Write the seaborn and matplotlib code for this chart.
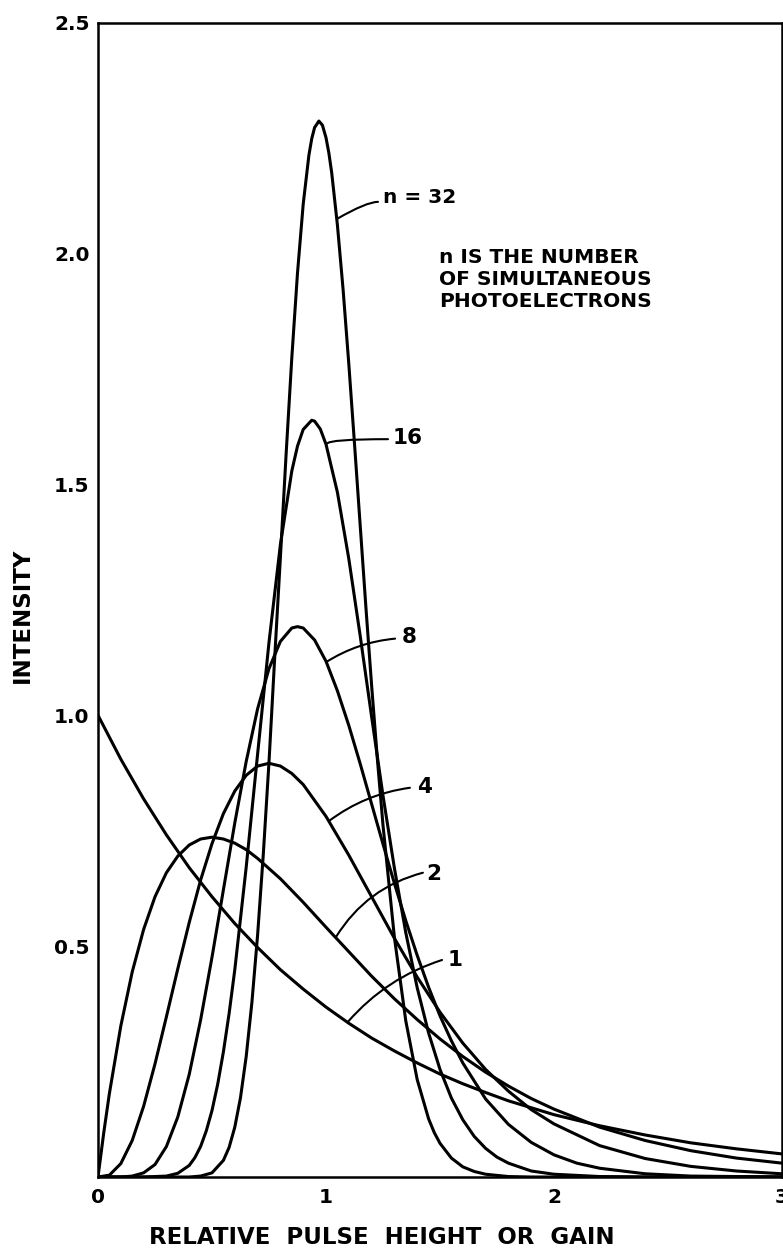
import matplotlib
matplotlib.use("Agg")
import matplotlib.pyplot as plt
import pandas as pd
import seaborn as sns

# ---- values (pulse-height spectra for n photoelectrons) ----
x_n1 = [0.0, 0.1, 0.2, 0.3, 0.4, 0.5, 0.6, 0.7, 0.8, 0.9, 1.0, 1.1, 1.2, 1.3, 1.4,
        1.5, 1.6, 1.7, 1.8, 1.9, 2.0, 2.2, 2.4, 2.6, 2.8, 3.0]
y_n1 = [1.000, 0.905, 0.819, 0.741, 0.670, 0.607, 0.549, 0.497, 0.449, 0.407, 0.368,
        0.333, 0.301, 0.273, 0.247, 0.223, 0.202, 0.183, 0.165, 0.150, 0.135, 0.111,
        0.091, 0.074, 0.061, 0.050]

x_n2 = [0.0, 0.025, 0.05, 0.1, 0.15, 0.2, 0.25, 0.3, 0.35, 0.4, 0.45, 0.5, 0.55, 0.6,
        0.65, 0.7, 0.8, 0.9, 1.0, 1.1, 1.2, 1.3, 1.4, 1.5, 1.6, 1.7, 1.8, 1.9, 2.0,
        2.2, 2.4, 2.6, 2.8, 3.0]
y_n2 = [0.000, 0.095, 0.181, 0.327, 0.444, 0.536, 0.607, 0.659, 0.695, 0.719, 0.732,
        0.736, 0.732, 0.723, 0.709, 0.690, 0.646, 0.595, 0.541, 0.488, 0.435, 0.386,
        0.341, 0.299, 0.261, 0.227, 0.197, 0.170, 0.147, 0.108, 0.079, 0.057, 0.041,
        0.030]

x_n4 = [0.0, 0.05, 0.1, 0.15, 0.2, 0.25, 0.3, 0.35, 0.4, 0.45, 0.5, 0.55, 0.6, 0.65,
        0.7, 0.75, 0.8, 0.85, 0.9, 1.0, 1.1, 1.2, 1.3, 1.4, 1.5, 1.6, 1.7, 1.8, 1.9,
        2.0, 2.2, 2.4, 2.6, 2.8, 3.0]
y_n4 = [0.000, 0.004, 0.029, 0.079, 0.153, 0.245, 0.347, 0.451, 0.551, 0.643, 0.722,
        0.787, 0.836, 0.870, 0.890, 0.896, 0.890, 0.874, 0.850, 0.781, 0.697, 0.607,
        0.517, 0.433, 0.357, 0.290, 0.233, 0.186, 0.146, 0.115, 0.068, 0.040, 0.023,
        0.013, 0.007]

x_n8 = [0.0, 0.1, 0.15, 0.2, 0.25, 0.3, 0.35, 0.4, 0.45, 0.5, 0.55, 0.6, 0.65, 0.7,
        0.75, 0.8, 0.85, 0.875, 0.9, 0.95, 1.0, 1.05, 1.1, 1.15, 1.2, 1.25, 1.3, 1.35,
        1.4, 1.45, 1.5, 1.55, 1.6, 1.7, 1.8, 1.9, 2.0, 2.1, 2.2, 2.4, 2.6, 2.8, 3.0]
y_n8 = [0.000, 0.000, 0.002, 0.009, 0.027, 0.066, 0.130, 0.222, 0.340, 0.476, 0.622,
        0.767, 0.900, 1.014, 1.101, 1.160, 1.189, 1.192, 1.189, 1.163, 1.117, 1.053,
        0.978, 0.895, 0.808, 0.721, 0.636, 0.555, 0.480, 0.411, 0.349, 0.295, 0.247,
        0.169, 0.114, 0.075, 0.048, 0.030, 0.019, 0.007, 0.002, 0.001, 0.000]

x_n16 = [0.0, 0.2, 0.3, 0.35, 0.4, 0.425, 0.45, 0.475, 0.5, 0.525, 0.55, 0.575, 0.6,
         0.65, 0.7, 0.75, 0.8, 0.85, 0.875, 0.9, 0.9375, 0.95, 0.975, 1.0, 1.05, 1.1,
         1.15, 1.2, 1.25, 1.3, 1.35, 1.4, 1.45, 1.5, 1.55, 1.6, 1.65, 1.7, 1.75, 1.8,
         1.9, 2.0, 2.2, 2.4, 3.0]
y_n16 = [0.000, 0.000, 0.002, 0.008, 0.025, 0.042, 0.066, 0.100, 0.144, 0.201, 0.271,
         0.354, 0.449, 0.671, 0.916, 1.158, 1.370, 1.529, 1.583, 1.619, 1.639, 1.637,
         1.620, 1.587, 1.483, 1.339, 1.172, 0.997, 0.826, 0.669, 0.529, 0.410, 0.312,
         0.233, 0.171, 0.124, 0.088, 0.062, 0.043, 0.030, 0.013, 0.006, 0.001, 0.000,
         0.000]

x_n32 = [0.0, 0.3, 0.4, 0.45, 0.5, 0.55, 0.575, 0.6, 0.625, 0.65, 0.675, 0.7, 0.725,
         0.75, 0.775, 0.8, 0.825, 0.85, 0.875, 0.9, 0.925, 0.9375, 0.95, 0.96875,
         0.984375, 1.0, 1.0125, 1.025, 1.05, 1.075, 1.1, 1.125, 1.15, 1.175, 1.2,
         1.225, 1.25, 1.3, 1.35, 1.4, 1.45, 1.475, 1.5, 1.55, 1.6, 1.65, 1.7, 1.8,
         1.9, 2.0, 3.0]
y_n32 = [0.000, 0.000, 0.000, 0.002, 0.009, 0.036, 0.064, 0.108, 0.172, 0.261, 0.378,
         0.524, 0.699, 0.899, 1.125, 1.342, 1.565, 1.774, 1.958, 2.107, 2.213, 2.249,
         2.273, 2.287, 2.278, 2.251, 2.218, 2.175, 2.062, 1.922, 1.761, 1.588, 1.411,
         1.234, 1.065, 0.907, 0.762, 0.519, 0.338, 0.211, 0.126, 0.096, 0.073, 0.041,
         0.022, 0.012, 0.006, 0.001, 0.000, 0.000, 0.000]

n_values = [1, 2, 4, 8, 16, 32]
curve_labels = ["1", "2", "4", "8", "16", "n = 32"]

x_ticks = [0, 1, 2, 3]
x_tick_labels = ["0", "1", "2", "3"]
y_ticks = [0.5, 1.0, 1.5, 2.0, 2.5]
y_tick_labels = ["0.5", "1.0", "1.5", "2.0", "2.5"]

x_title = "RELATIVE  PULSE  HEIGHT  OR  GAIN"
y_title = "INTENSITY"
note_text = "n IS THE NUMBER\nOF SIMULTANEOUS\nPHOTOELECTRONS"

# ---- long-form table ----
series = [(x_n1, y_n1), (x_n2, y_n2), (x_n4, y_n4),
          (x_n8, y_n8), (x_n16, y_n16), (x_n32, y_n32)]
frames = []
for n, (xs, ys) in zip(n_values, series):
    frames.append(pd.DataFrame({"x": xs, "y": ys, "n": n}))
df = pd.concat(frames, ignore_index=True)

sns.set_style("white")
plt.rcParams["font.family"] = ["DejaVu Sans"]
plt.rcParams["font.weight"] = "bold"

W, H = 783, 1249
fig = plt.figure(figsize=(W / 100, H / 100), dpi=100)
left, right, top, bottom = 98, 782, 22.7, 1177
ax = fig.add_axes([left / W, 1 - bottom / H, (right - left) / W, (bottom - top) / H])

sns.lineplot(data=df, x="x", y="y", units="n", estimator=None, sort=False,
             color="black", linewidth=2.2, ax=ax, legend=False,
             solid_joinstyle="round", solid_capstyle="round")

ax.set_xlim(0, 3)
ax.set_ylim(0, 2.5)
ax.set_xticks(x_ticks)
ax.set_xticklabels(x_tick_labels, fontweight="bold")
ax.set_yticks(y_ticks)
ax.set_yticklabels(y_tick_labels, fontweight="bold")
ax.tick_params(axis="both", direction="in", color="black", width=1.8,
               labelsize=14.5, labelcolor="black")
ax.tick_params(axis="y", length=9, pad=6)
ax.tick_params(axis="x", length=11, pad=8)

for s in ax.spines.values():
    s.set_color("black")
    s.set_linewidth(1.8)
    s.set_visible(True)

ax.set_xlabel(x_title, fontsize=16.5, fontweight="bold", color="black", va="center")
ax.xaxis.set_label_coords((382 - left) / (right - left), (bottom - 1237) / (bottom - top))
ax.set_ylabel(y_title, fontsize=16.5, fontweight="bold", color="black", va="center")
ax.yaxis.set_label_coords((22 - left) / (right - left), (bottom - 615) / (bottom - top))

# ---- leader lines and curve labels ----
# (curve point, leader end, label position, connection style)
leaders = [
    ((1.096, 0.336), (1.509, 0.470), (1.531, 0.470), "arc3,rad=0.14"),
    ((1.044, 0.520), (1.425, 0.659), (1.439, 0.656), "arc3,rad=0.2"),
    ((1.013, 0.771), (1.368, 0.843), (1.399, 0.845), "arc3,rad=0.13"),
    ((1.000, 1.115), (1.303, 1.166), (1.333, 1.170), "arc3,rad=0.12"),
    ((1.004, 1.588), (1.272, 1.598), (1.294, 1.601), "angle3,angleA=0,angleB=70"),
    ((1.048, 2.075), (1.228, 2.112), (1.250, 2.121), "angle3,angleA=0,angleB=30"),
]
label_sizes = [15.5, 15.5, 15.5, 15.5, 15.5, 14.5]
for label, (pt, end, lab, cs), fs in zip(curve_labels, leaders, label_sizes):
    ax.annotate("", xy=pt, xytext=end,
                arrowprops=dict(arrowstyle="-", connectionstyle=cs, lw=1.5,
                                color="black", shrinkA=0, shrinkB=0))
    ax.text(lab[0], lab[1], label, fontsize=fs, fontweight="bold",
            ha="left", va="center", color="black")

ax.text(1.496, 1.943, note_text, fontsize=14.5, fontweight="bold", ha="left",
        va="center", linespacing=1.2, color="black")

fig.savefig("out.png", dpi=100)
